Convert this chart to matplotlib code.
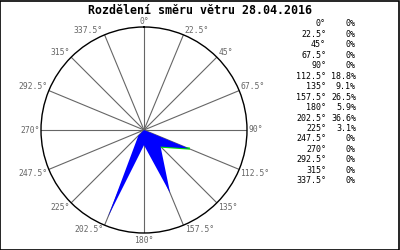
import numpy as np
import matplotlib.pyplot as plt
from matplotlib.patches import Rectangle

# ===== data =====
angles = [0, 22.5, 45, 67.5, 90, 112.5, 135, 157.5, 180, 202.5, 225, 247.5, 270, 292.5, 315, 337.5]
values = [0, 0, 0, 0, 0, 18.8, 9.1, 26.5, 5.9, 36.6, 3.1, 0, 0, 0, 0, 0]
title = "Rozdělení směru větru 28.04.2016"
r_max = 40

def fmt_deg(a):
    return f"{a:g}°"

def fmt_pct(v):
    return "0%" if v == 0 else f"{v:.1f}%"

fig = plt.figure(figsize=(4, 2.5), dpi=100)
fig.patch.set_facecolor("white")
mono = "DejaVu Sans Mono"

# polar plot, centre ~ (144,130) px, radius ~103 px
ax = fig.add_axes([0.1025, 0.068, 0.515, 0.824], projection="polar")
ax.set_theta_zero_location("N")
ax.set_theta_direction(-1)
ax.set_ylim(0, r_max)
ax.set_yticks([])
ax.set_thetagrids(angles, labels=[""] * len(angles))
ax.xaxis.grid(True, color="#666666", lw=0.8)
ax.spines["polar"].set_color("black")
ax.spines["polar"].set_linewidth(1)
ax.set_facecolor("white")

th = np.deg2rad(angles + [angles[0]])
rv = values + [values[0]]
# green edge between 112.5 and 135
ax.plot(np.deg2rad([112.5, 135]), [18.8, 9.1], color="#00e000", lw=1.6, zorder=2)
ax.fill(th, rv, color="#0000ff", lw=0, zorder=3)

for a in angles:
    if a == 0:
        ha, va, off = "center", "bottom", (0, 1)
    elif a == 180:
        ha, va, off = "center", "top", (0, -2)
    else:
        ha = "left" if a < 180 else "right"
        if a in (90, 270):
            va = "center"
        elif a < 90 or a > 270:
            va = "bottom"
        else:
            va = "top"
        off = (1 if a < 180 else -1, 0)
    ax.annotate(fmt_deg(a), xy=(np.deg2rad(a), r_max), xytext=off,
                textcoords="offset points", ha=ha, va=va,
                fontsize=5.8, family=mono, color="#666666", annotation_clip=False)

fig.text(0.5, 1 - 11 / 250, title, ha="center", va="center",
         fontsize=8.4, family=mono, fontweight="bold")

# table on right
for i, (a, v) in enumerate(zip(angles, values)):
    y = 1 - (24 + i * 10.45) / 250
    fig.text(326 / 400, y, fmt_deg(a), ha="right", va="center", fontsize=6, family=mono)
    fig.text(356 / 400, y, fmt_pct(v), ha="right", va="center", fontsize=6, family=mono)

fig.patches.append(Rectangle((0.001, 0.002), 0.997, 0.996, transform=fig.transFigure,
                             fill=False, ec="black", lw=1.2))

fig.savefig("out.png", dpi=100)
